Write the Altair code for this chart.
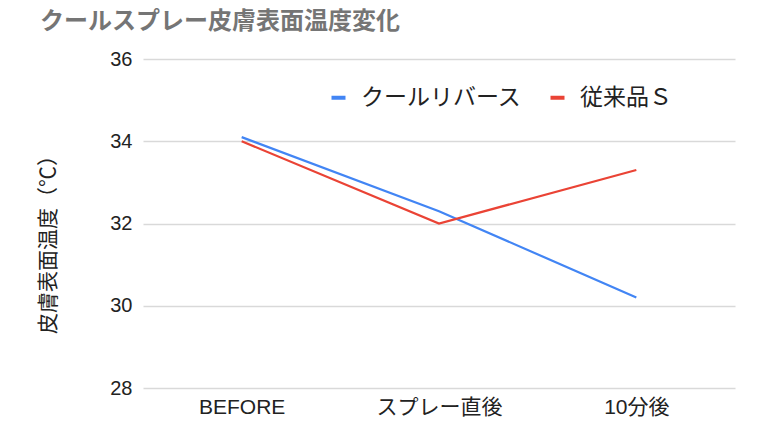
import altair as alt
import pandas as pd

categories = ["BEFORE", "スプレー直後", "10分後"]
series_names = ["クールリバース", "従来品Ｓ"]
cool_reverse = [34.1, 32.3, 30.2]
conventional_s = [34.0, 32.0, 33.3]
y_ticks = [28, 30, 32, 34, 36]

rows = []
for c, v in zip(categories, cool_reverse):
    rows.append({"時点": c, "製品": series_names[0], "温度": v})
for c, v in zip(categories, conventional_s):
    rows.append({"時点": c, "製品": series_names[1], "温度": v})
df = pd.DataFrame(rows)

FONT = "Liberation Sans, Noto Sans CJK JP"

chart = alt.Chart(df).mark_line(strokeWidth=2.2).encode(
    x=alt.X("時点:N", sort=categories,
            scale=alt.Scale(type="point", padding=0.5),
            axis=alt.Axis(title=None, labelAngle=0, labelFontSize=21, labelColor="#222222",
                          labelPadding=8, domain=False, ticks=False, grid=False,
                          labelFont=FONT)),
    y=alt.Y("温度:Q", scale=alt.Scale(domain=[28, 36], nice=False, zero=False),
            axis=alt.Axis(values=y_ticks, title="皮膚表面温度（℃）", titleFontSize=21,
                          titleFontWeight="normal", titleColor="#222222", titleFont=FONT,
                          titleX=-95, titleY=180, titleAngle=270, titleAlign="center",
                          titleBaseline="middle", titleLimit=400,
                          labelFontSize=20, labelColor="#222222", labelPadding=11, labelFont=FONT,
                          domain=False, ticks=False, gridColor="#d9d9d9", gridWidth=1.3)),
    color=alt.Color("製品:N", sort=series_names,
                    scale=alt.Scale(domain=series_names, range=["#4285F4", "#EA4335"]),
                    legend=alt.Legend(title=None, orient="none", direction="horizontal",
                                      legendX=184, legendY=27, symbolType="stroke",
                                      symbolSize=196, symbolStrokeWidth=4,
                                      labelFontSize=23, labelFont=FONT, labelColor="#222222",
                                      labelOffset=11, columnPadding=20, labelLimit=400)),
).properties(
    width=592,
    height=329,
    title=alt.TitleParams("クールスプレー皮膚表面温度変化", anchor="start", frame="group",
                          dx=-103, offset=15, fontSize=24, fontWeight="bold",
                          color="#757575", font=FONT),
    padding={"left": 135, "top": 51, "right": 26, "bottom": 31},
    autosize=alt.AutoSizeParams(type="none"),
).configure_view(stroke=None)

chart.save("out.html", embed_options={"renderer": "svg", "actions": False})
